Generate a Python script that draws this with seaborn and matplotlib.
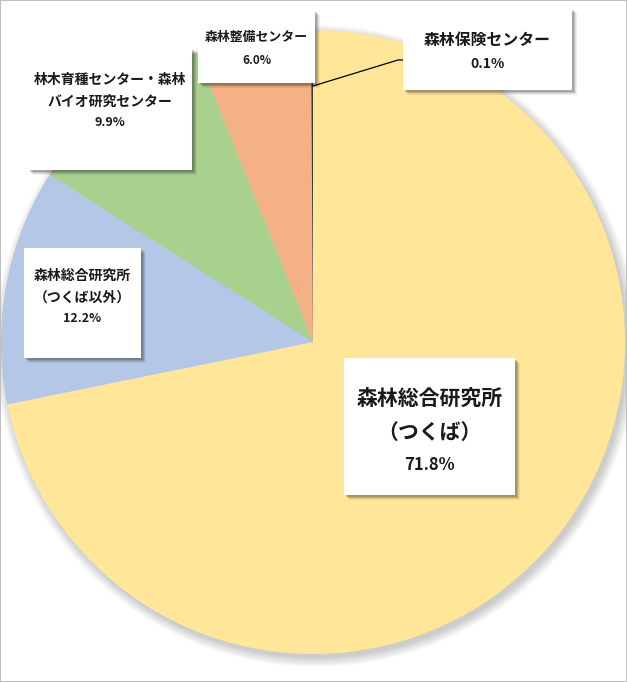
import matplotlib
matplotlib.use("Agg")
import matplotlib.pyplot as plt
import seaborn as sns
from matplotlib.patches import Rectangle, Circle

categories = ["森林総合研究所\n（つくば）", "森林総合研究所\n（つくば以外）",
              "林木育種センター・森林\nバイオ研究センター", "森林整備センター", "森林保険センター"]
values = [71.8, 12.2, 9.9, 6.0, 0.1]
pct_labels = ["71.8%", "12.2%", "9.9%", "6.0%", "0.1%"]
colors = ["#FFE699", "#B4C7E7", "#A9D18E", "#F4B183", "#3A3A3A"]

sns.set_theme(style="white")
plt.rcParams['font.family'] = ['Noto Sans CJK JP', 'DejaVu Sans']

W, H = 627, 682
fig = plt.figure(figsize=(W / 100, H / 100), dpi=100)
ax = fig.add_axes([0, 0, 1, 1])
ax.set_xlim(0, W)
ax.set_ylim(0, H)
ax.axis("off")

def Y(py):
    return H - py

cx, cy, R = 313, Y(342), 312

# soft pie shadow
for k in range(10):
    ax.add_patch(Circle((cx + 3, cy - 4), R + 9 - k, color="black", alpha=0.018, lw=0, zorder=0))

pal = sns.color_palette(colors)
ax.pie(values, colors=pal, startangle=90, counterclock=False, center=(cx, cy), radius=R,
       wedgeprops=dict(linewidth=0), frame=True)
ax.set_xlim(0, W)
ax.set_ylim(0, H)
ax.set_aspect("equal")
ax.axis("off")

# label boxes: (x0, y0, x1, y1) in pixels, name font size, pct font size, line y positions
boxes = [
    (344, 358, 515, 495, 15, 12, [398, 432, 465]),
    (24, 248, 141, 358, 10, 9, [276, 298, 318]),
    (28, 48, 192, 170, 10, 9, [80, 102, 123]),
    (198, 10, 315, 83, 9.3, 8.5, [37, 60]),
    (403, 8, 572, 90, 11.4, 10, [40, 64]),
]

def draw_box(x0, y0, x1, y1):
    w, h = x1 - x0, y1 - y0
    for d, a in [(5, 0.06), (4, 0.08), (3, 0.12), (2, 0.15)]:
        ax.add_patch(Rectangle((x0 + d, Y(y1) - d), w, h, color="black", alpha=a, lw=0, zorder=4))
    ax.add_patch(Rectangle((x0, Y(y1)), w, h, facecolor="white", edgecolor="none", zorder=5))

for (x0, y0, x1, y1, fs, pfs, ys), name, pct in zip(boxes, categories, pct_labels):
    draw_box(x0, y0, x1, y1)
    xm = (x0 + x1) / 2
    lines = name.split("\n")
    for ln, yy in zip(lines, ys):
        ax.text(xm, Y(yy), ln, ha="center", va="center", fontsize=fs, fontweight="bold",
                color="#1a1a1a", zorder=6)
    ax.text(xm, Y(ys[len(lines)]), pct, ha="center", va="center", fontsize=pfs,
            fontweight="bold", color="#1a1a1a", zorder=6)

# leader line for the smallest slice
ax.plot([313, 398, 403], [Y(86), Y(60), Y(60)], color="black", lw=0.9, zorder=3)

# figure border
fig.patches.append(Rectangle((0, 0), 1, 1, transform=fig.transFigure, fill=False,
                             edgecolor="#BFBFBF", lw=1.5))

fig.savefig("out.png", dpi=100)
